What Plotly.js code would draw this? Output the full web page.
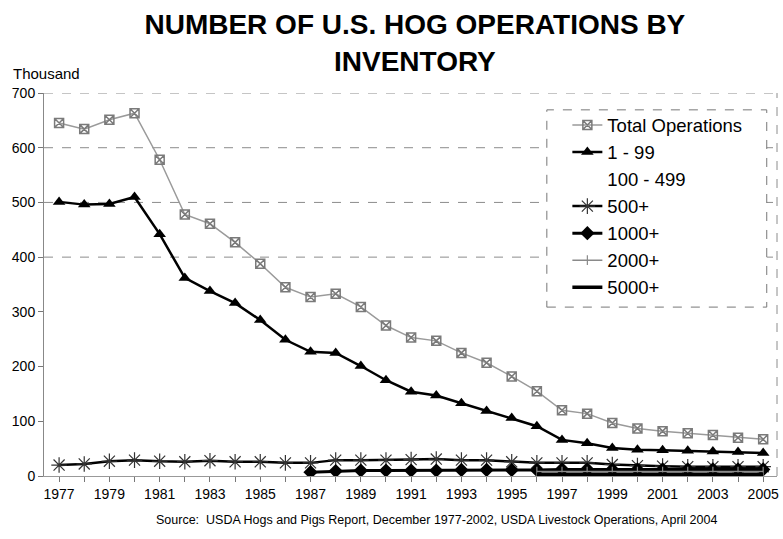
<!DOCTYPE html>
<html>
<head>
<meta charset="utf-8">
<script src="https://cdn.plot.ly/plotly-3.0.1.min.js"></script>
<style>
  html, body { margin: 0; padding: 0; background: #fff; }
  #chart { width: 783px; height: 539px; }
</style>
</head>
<body>
<div id="chart"></div>
<script>
// ---- Data (thousand operations) ----
const years = [1977,1978,1979,1980,1981,1982,1983,1984,1985,1986,1987,1988,1989,1990,1991,1992,1993,1994,1995,1996,1997,1998,1999,2000,2001,2002,2003,2004,2005];
const tickLabels = ['1977','','1979','','1981','','1983','','1985','','1987','','1989','','1991','','1993','','1995','','1997','','1999','','2001','','2003','','2005'];
const totalOps   = [645,634,651,663,578,478,461,427,388,345,327,333,309,275,253,247,225,207,182,155,120,114,97,87,82,78,75,70,67];
const ops1to99   = [501,496,497,510,442,362,338,316,285,249,227,225,201,175,154,147,133,119,106,91,66,60,51,48,47,46,45,44,42];
const ops100to499 = [null,null,null,null,null,null,null,null,null,null,null,null,null,null,null,null,null,null,null,null,null,null,null,null,null,null,null,null,null];
const ops500plus = [20,22,27,29,27,26,28,26,26,24,24,29,29,29,30,31,29,29,26,24,24,24,21,19,18,17,17,17,17];
const ops1000plus = [null,null,null,null,null,null,null,null,null,null,7,9,10,10,10,10,11,11,11,11,12,12,12,12,12,12,12,12,12];
const ops2000plus = [null,null,null,null,null,null,null,null,null,null,null,null,null,null,null,null,null,null,null,8,8,8,8,8,8,8,8,8,8];
const ops5000plus = [null,null,null,null,null,null,null,null,null,null,null,null,null,null,null,null,null,null,null,3,3,3,3,3,3,3,3,3,3];
const seriesNames = ['Total Operations','1 - 99','100 - 499','500+','1000+','2000+','5000+'];
const gridValues = [400,500,600,700];

const FONT = 'Arial, "Liberation Sans", sans-serif';

const traces = [
  { x: years, y: totalOps, name: seriesNames[0], mode: 'lines+markers',
    line: {color: '#9a9a9a', width: 1.5},
    marker: {symbol: 'square-x-open', size: 9, color: '#7a7a7a', line: {width: 1.5}} },
  { x: years, y: ops1to99, name: seriesNames[1], mode: 'lines+markers',
    line: {color: '#000', width: 2.5},
    marker: {symbol: 'triangle-up', size: 11, color: '#000'} },
  { x: years, y: ops100to499, name: seriesNames[2], mode: 'lines',
    line: {color: 'rgba(255,255,255,0)', width: 1} },
  { x: years, y: ops500plus, name: seriesNames[3], mode: 'lines+markers',
    line: {color: '#000', width: 2.5},
    marker: {symbol: 'asterisk-open', size: 13, color: '#333', line: {width: 1.2, color: '#333'}} },
  { x: years, y: ops1000plus, name: seriesNames[4], mode: 'lines+markers',
    line: {color: '#000', width: 3},
    marker: {symbol: 'diamond', size: 11, color: '#000'} },
  { x: years, y: ops2000plus, name: seriesNames[5], mode: 'lines+markers',
    line: {color: '#8a8a8a', width: 1.5},
    marker: {symbol: 'line-ns-open', size: 7, color: '#8a8a8a', line: {width: 1.2, color: '#8a8a8a'}} },
  { x: years, y: ops5000plus, name: seriesNames[6], mode: 'lines',
    line: {color: '#000', width: 3.5} }
];

const shapes = gridValues.map(v => ({
  type: 'line', xref: 'paper', x0: 0, x1: 1, yref: 'y', y0: v, y1: v,
  line: {color: '#8c8c8c', width: 1, dash: 'dash'}, layer: 'below'
}));
// right plot border
shapes.push({type: 'line', xref: 'paper', yref: 'paper', x0: 1, x1: 1, y0: 0, y1: 1,
  line: {color: '#8c8c8c', width: 1, dash: 'dash'}, layer: 'below'});
// legend box
shapes.push({type: 'rect', xref: 'paper', yref: 'paper', x0: 0.686, x1: 0.986, y0: 0.441, y1: 0.956,
  line: {color: '#777', width: 1, dash: 'dash'}, fillcolor: '#fff', layer: 'below'});

const layout = {
  width: 783, height: 539,
  margin: {l: 44, r: 6, t: 93, b: 63},
  paper_bgcolor: '#fff', plot_bgcolor: '#fff',
  font: {family: FONT, color: '#000'},
  title: {
    text: '<b>NUMBER OF U.S. HOG OPERATIONS BY<br>INVENTORY</b>',
    font: {family: FONT, size: 28, color: '#000'},
    x: 0.506, xanchor: 'center', xref: 'paper',
    yref: 'container', y: 0.936, yanchor: 'top'
  },
  xaxis: {
    range: [1976.4, 2005.55],
    tickmode: 'array', tickvals: years, ticktext: tickLabels,
    ticks: 'outside', ticklen: 5, tickcolor: '#777',
    showgrid: false, zeroline: false,
    showline: true, linecolor: '#999', linewidth: 1,
    tickfont: {family: FONT, size: 14, color: '#000'}
  },
  yaxis: {
    range: [0, 700], dtick: 100,
    ticks: 'outside', ticklen: 5, tickcolor: '#777',
    showgrid: false, zeroline: false,
    showline: true, linecolor: '#888', linewidth: 1,
    tickfont: {family: FONT, size: 14, color: '#000'}
  },
  showlegend: true,
  legend: {
    x: 0.714, xanchor: 'left', y: 0.965, yanchor: 'top',
    bgcolor: 'rgba(0,0,0,0)', borderwidth: 0,
    font: {family: FONT, size: 18.5, color: '#000'},
    traceorder: 'normal'
  },
  shapes: shapes,
  annotations: [
    { text: 'Thousand', xref: 'paper', yref: 'paper', x: -0.045, y: 1.052,
      xanchor: 'left', yanchor: 'middle', showarrow: false,
      font: {family: FONT, size: 15, color: '#000'} },
    { text: 'Source:  USDA Hogs and Pigs Report, December 1977-2002, USDA Livestock Operations, April 2004',
      xref: 'paper', yref: 'paper', x: 0.535, y: -0.115, xanchor: 'center', yanchor: 'middle',
      showarrow: false, font: {family: FONT, size: 12.5, color: '#000'} }
  ]
};

Plotly.newPlot('chart', traces, layout, {displayModeBar: false, staticPlot: true});
</script>
</body>
</html>
